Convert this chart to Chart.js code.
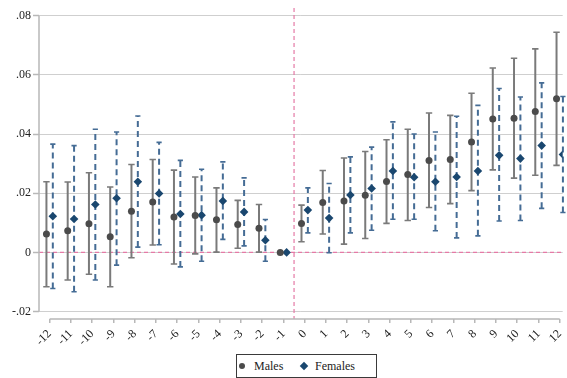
<!DOCTYPE html>
<html>
<head>
<meta charset="utf-8">
<script src="https://cdn.jsdelivr.net/npm/chart.js@4/dist/chart.umd.min.js"></script>
<style>
  html, body { margin: 0; padding: 0; background: #fff; }
  #wrap { position: relative; width: 567px; height: 378px; overflow: hidden; }
  #legend {
    position: absolute; left: 236px; top: 354px; width: 141px; height: 24px;
    box-sizing: border-box; border: 1px solid #3a3a3a; background: #fff;
    font-family: 'Liberation Serif', 'Times New Roman', Times, serif; font-size: 12px; color: #222;
  }
  #legend span { position: absolute; top: 4px; line-height: 14px; }
  .mk-circle { position: absolute; left: 2px; top: 8px; width: 6px; height: 6px; border-radius: 50%; background: #4b4b4b; }
  .mk-diamond { position: absolute; left: 64px; top: 8px; width: 6px; height: 6px; background: #1a476f; transform: rotate(45deg); }
</style>
</head>
<body>
<div id="wrap">
  <canvas id="c" width="567" height="378"></canvas>
  <div id="legend">
    <div class="mk-circle"></div><span style="left:17px">Males</span>
    <div class="mk-diamond"></div><span style="left:78px">Females</span>
  </div>
</div>
<script>
// Event time relative to the reference period (-1 is the omitted year)
const periods = [-12,-11,-10,-9,-8,-7,-6,-5,-4,-3,-2,-1,0,1,2,3,4,5,6,7,8,9,10,11,12];

const maleEst = [0.0062,0.0073,0.0097,0.0053,0.0139,0.0170,0.0120,0.0125,0.0110,0.0094,0.0082,0,
                 0.0098,0.0169,0.0174,0.0193,0.0240,0.0263,0.0311,0.0314,0.0373,0.0451,0.0453,0.0476,0.0519];
const maleLo  = [-0.0116,-0.0093,-0.0074,-0.0116,-0.0018,0.0025,-0.0039,-0.0005,0.0001,0.0014,0.0001,0,
                 0.0036,0.0062,0.0028,0.0047,0.0098,0.0108,0.0152,0.0165,0.0209,0.0279,0.0251,0.0261,0.0294];
const maleHi  = [0.0239,0.0238,0.0269,0.0221,0.0297,0.0314,0.0278,0.0255,0.0218,0.0176,0.0162,0,
                 0.0160,0.0277,0.0319,0.0341,0.0381,0.0416,0.0471,0.0463,0.0538,0.0623,0.0656,0.0688,0.0744];

const femaleEst = [0.0122,0.0113,0.0162,0.0183,0.0239,0.0199,0.0130,0.0126,0.0174,0.0137,0.0041,0,
                   0.0143,0.0116,0.0194,0.0216,0.0275,0.0254,0.0239,0.0255,0.0275,0.0328,0.0317,0.0361,0.0331];
const femaleLo  = [-0.0122,-0.0133,-0.0093,-0.0043,0.0018,0.0026,-0.0049,-0.0030,0.0044,0.0022,-0.0030,0,
                   0.0066,-0.0001,0.0066,0.0075,0.0112,0.0112,0.0073,0.0049,0.0056,0.0106,0.0108,0.0149,0.0135];
const femaleHi  = [0.0366,0.0361,0.0416,0.0407,0.0461,0.0372,0.0311,0.0281,0.0306,0.0252,0.0111,0,
                   0.0218,0.0233,0.0323,0.0356,0.0441,0.0400,0.0407,0.0460,0.0497,0.0554,0.0525,0.0573,0.0527];

const yTickValues = [-0.02, 0, 0.02, 0.04, 0.06, 0.08];
const yTickLabels = ['-.02', '0', '.02', '.04', '.06', '.08'];

// horizontal shift so the two groups sit side by side at each period
const SHIFT = 0.15;

const serif = "'Liberation Serif', 'Times New Roman', Times, serif";

const ciBars = {
  id: 'ciBars',
  beforeDatasetsDraw(chart) {
    const {ctx, scales: {x, y}} = chart;
    const groups = [
      {lo: maleLo, hi: maleHi, dx: -SHIFT, color: '#7a7a7a', dash: [], cap: 3.2, width: 2},
      {lo: femaleLo, hi: femaleHi, dx: SHIFT, color: '#456c95', dash: [6, 4], cap: 2.6, width: 2}
    ];
    ctx.save();
    groups.forEach(g => {
      periods.forEach((p, i) => {
        if (g.lo[i] === g.hi[i]) return;
        const px = x.getPixelForValue(p + g.dx);
        const y1 = y.getPixelForValue(g.lo[i]);
        const y2 = y.getPixelForValue(g.hi[i]);
        ctx.strokeStyle = g.color;
        ctx.lineWidth = g.width;
        ctx.setLineDash(g.dash);
        ctx.beginPath();
        ctx.moveTo(px, y1);
        ctx.lineTo(px, y2);
        ctx.stroke();
        ctx.setLineDash([]);
        ctx.lineWidth = 1.6;
        ctx.beginPath();
        ctx.moveTo(px - g.cap, y1); ctx.lineTo(px + g.cap, y1);
        ctx.moveTo(px - g.cap, y2); ctx.lineTo(px + g.cap, y2);
        ctx.stroke();
      });
    });
    ctx.restore();
  }
};

const frame = {
  id: 'frame',
  beforeDatasetsDraw(chart) {
    const {ctx, chartArea: a, scales: {x, y}} = chart;
    ctx.save();
    // reference lines at zero effect and at the start of treatment
    ctx.strokeStyle = '#e57aa6';
    ctx.lineWidth = 1.2;
    ctx.setLineDash([4, 3]);
    const y0 = y.getPixelForValue(0);
    ctx.beginPath(); ctx.moveTo(a.left, y0); ctx.lineTo(a.right, y0); ctx.stroke();
    const xv = x.getPixelForValue(-0.5);
    ctx.beginPath(); ctx.moveTo(xv, a.top); ctx.lineTo(xv, a.bottom); ctx.stroke();
    ctx.setLineDash([]);
    // axis lines spanning the labelled range
    ctx.strokeStyle = '#b8b8b8';
    ctx.lineWidth = 1.5;
    ctx.beginPath();
    ctx.moveTo(a.left, y.getPixelForValue(-0.02));
    ctx.lineTo(a.left, y.getPixelForValue(0.08));
    ctx.moveTo(x.getPixelForValue(-12), a.bottom);
    ctx.lineTo(x.getPixelForValue(12), a.bottom);
    ctx.stroke();
    ctx.restore();
  }
};

new Chart(document.getElementById('c'), {
  type: 'scatter',
  data: {
    datasets: [
      {
        label: 'Males',
        data: periods.map((p, i) => ({x: p - SHIFT, y: maleEst[i]})),
        pointStyle: 'circle',
        pointRadius: 3.5,
        backgroundColor: '#4b4b4b',
        borderColor: '#4b4b4b',
        borderWidth: 0
      },
      {
        label: 'Females',
        data: periods.map((p, i) => ({x: p + SHIFT, y: femaleEst[i]})),
        pointStyle: 'rectRot',
        pointRadius: 4.3,
        backgroundColor: '#1a476f',
        borderColor: '#1a476f',
        borderWidth: 0
      }
    ]
  },
  options: {
    responsive: false,
    animation: false,
    devicePixelRatio: 1,
    layout: {padding: {top: 8, right: 0, bottom: 0, left: 0}},
    plugins: {legend: {display: false}, tooltip: {enabled: false}},
    scales: {
      x: {
        type: 'linear',
        min: -12.5,
        max: 12.14,
        afterBuildTicks(s) { s.ticks = periods.map(v => ({value: v})); },
        afterFit(s) { s.height = 59; s.paddingLeft = 0; s.paddingRight = 0; },
        border: {display: false},
        grid: {
          display: true,
          drawOnChartArea: false,
          tickColor: '#b8b8b8',
          tickLength: 4,
          lineWidth: 1.5
        },
        ticks: {
          autoSkip: false,
          minRotation: 45,
          maxRotation: 45,
          padding: 4,
          color: '#222',
          font: {family: serif, size: 12},
          callback: v => String(v)
        }
      },
      y: {
        type: 'linear',
        min: -0.0225,
        max: 0.0826,
        afterBuildTicks(s) { s.ticks = yTickValues.map(v => ({value: v})); },
        afterFit(s) { s.width = 39; s.paddingTop = 0; s.paddingBottom = 0; },
        border: {display: false},
        grid: {
          color: '#cfcfcf',
          lineWidth: 1,
          borderDash: [1, 2.5],
          tickColor: '#b8b8b8',
          tickLength: 6,
          tickBorderDash: [],
          tickWidth: 1.5
        },
        ticks: {
          padding: 2,
          color: '#222',
          font: {family: serif, size: 12},
          callback: (v) => {
            const k = yTickValues.findIndex(t => Math.abs(t - v) < 1e-9);
            return k >= 0 ? yTickLabels[k] : '';
          }
        }
      }
    }
  },
  plugins: [frame, ciBars]
});
</script>
</body>
</html>
